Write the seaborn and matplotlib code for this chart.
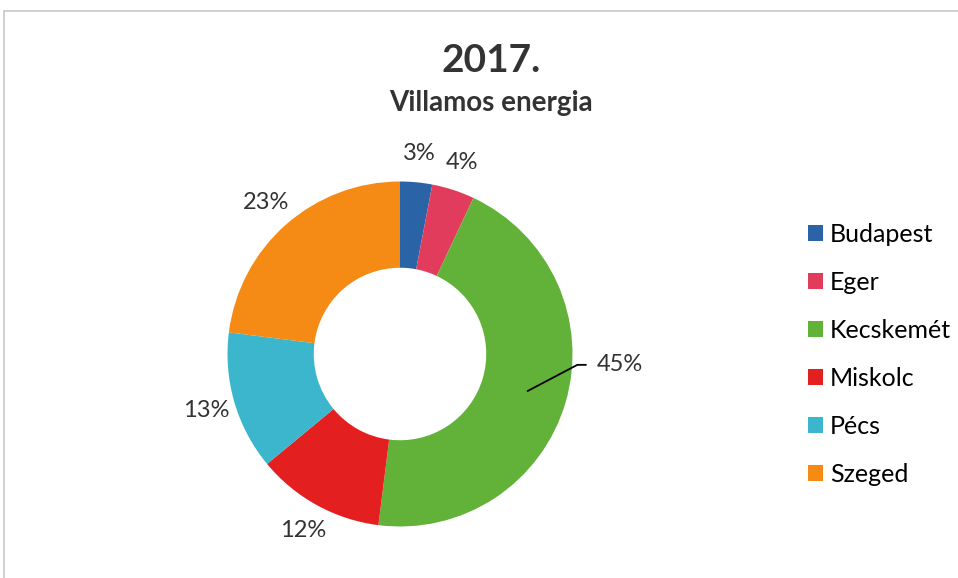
import numpy as np
import seaborn as sns
import matplotlib.pyplot as plt
from matplotlib.patches import Patch
from matplotlib.lines import Line2D

# adatok
varosok = ['Budapest', 'Eger', 'Kecskemét', 'Miskolc', 'Pécs', 'Szeged']
szazalek = [3, 4, 45, 12, 13, 23]
szinek = ['#2a64a6', '#e23c5c', '#62b23a', '#e3201f', '#3bb6cc', '#f58a14']

sns.set_theme(style='white')
plt.rcParams['font.family'] = ['Lato', 'DejaVu Sans']
szoveg = '#333333'

fig = plt.figure(figsize=(9.58, 5.78), dpi=100)

# kor kozeppont (400, 354) px, sugar 172.5 px
W, H = 958, 578
R = 172.5
lim = 1.3
half = R * lim
ax = fig.add_axes([(400 - half) / W, (H - 354 - half) / H, 2 * half / W, 2 * half / H])

wedges, _ = ax.pie(szazalek, colors=sns.color_palette(szinek), startangle=90,
                   counterclock=False, radius=1.0,
                   wedgeprops=dict(width=0.5, edgecolor='none'))
ax.set_xlim(-lim, lim)
ax.set_ylim(-lim, lim)
ax.set_aspect('equal')
ax.axis('off')

# cimkek
for w, p in zip(wedges, szazalek):
    ang = np.deg2rad((w.theta1 + w.theta2) / 2)
    if p == 45:
        x0, y0 = 0.77 * np.cos(ang), 0.77 * np.sin(ang)
        x1, y1 = 1.03 * np.cos(np.deg2rad(-3.5)), 1.03 * np.sin(np.deg2rad(-3.5))
        ax.plot([x0, x1, x1 + 0.05], [y0, y1, y1], color='black', lw=1.3, clip_on=False)
        ax.text(x1 + 0.11, y1, f'{p}%', ha='left', va='center', fontsize=17,
                color=szoveg, clip_on=False)
    else:
        ax.text(1.17 * np.cos(ang), 1.17 * np.sin(ang), f'{p}%', ha='center', va='center',
                fontsize=17, color=szoveg, clip_on=False)

# cim
fig.text(491 / W, 1 - 72 / H, '2017.', ha='center', va='baseline', fontsize=28,
         fontweight='bold', color=szoveg)
fig.text(491 / W, 1 - 111 / H, 'Villamos energia', ha='center', va='baseline', fontsize=20,
         fontweight='bold', color=szoveg)

# jelmagyarazat
kezelok = [Patch(facecolor=c, edgecolor='none') for c in szinek]
fig.legend(kezelok, varosok, loc='upper left', bbox_to_anchor=(795 / W, 1 - 210 / H),
           frameon=False, fontsize=18, handlelength=0.6, handleheight=0.6,
           handletextpad=0.3, labelspacing=1.0, labelcolor='black', borderpad=0)

# keret
fig.add_artist(Line2D([4 / W, 4 / W], [0, 1 - 11 / H], color='#c8c8c8', lw=1.2))
fig.add_artist(Line2D([4 / W, 1], [1 - 11 / H, 1 - 11 / H], color='#c8c8c8', lw=1.2))

fig.savefig('out.png', dpi=100, facecolor='white')
